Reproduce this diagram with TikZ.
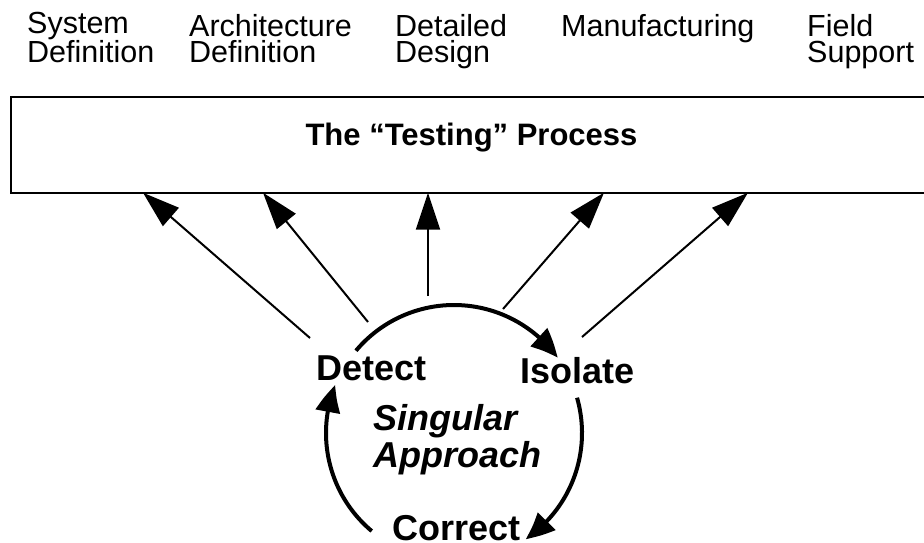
\documentclass[tikz,border=0pt]{standalone}
\usepackage{fontspec}
\setmainfont{Liberation Sans}
\usetikzlibrary{arrows.meta,bending}
\tikzset{phase/.style={anchor=base west, inner sep=0pt, align=left, font=\fontsize{30.5}{26.5}\selectfont},
  cyclabel/.style={anchor=base west, inner sep=0pt, font=\bfseries\fontsize{36}{37}\selectfont},
  procbox/.style={draw, line width=2pt, minimum width=921pt, minimum height=96pt, inner sep=0pt},
  feed/.style={line width=2pt, -{Triangle[length=37pt,width=24pt]}},
  cyc/.style={line width=4pt, -{Triangle[length=28pt,width=24pt,bend]}}}

\begin{document}
\begin{tikzpicture}[x=1pt, y=1pt]
    \useasboundingbox (0,0) rectangle (924,-542);
    % the base anchor of a two-line label sits on its last line
    \foreach \n/\x/\y/\t in {sysdef/27/62.5/{System\\Definition}, archdef/189/62.5/{Architecture\\Definition}, design/395/62.5/{Detailed\\Design}, manuf/561/36/{Manufacturing}, field/807/62.5/{Field\\Support}} {
      \node [phase] (\n) at (\x,-\y) {\t};
    }
    \node [procbox] (box) at (471.5,-144.7) {};
    \node [anchor=base, inner sep=0pt, font=\bfseries\fontsize{31}{31}\selectfont] (title) at (471.5,-145) {The “Testing” Process};
    \foreach \i/\tx/\ty/\hx in {1/310/338/143, 2/368/322/263, 3/428/296/428, 4/503/309/604, 5/582/337/748} {
      \coordinate (t\i) at (\tx,-\ty);
      \coordinate (h\i) at (\hx,-192.7);
      \draw [feed] (t\i) -- (h\i);
    }
    \coordinate (c) at (454,-433);
    \node [cyclabel] (detect) at (316,-380) {Detect};
    \node [cyclabel] (isolate) at (520,-383) {Isolate};
    \node [cyclabel, font=\bfseries\itshape\fontsize{36}{37}\selectfont, align=left] (singular) at (373,-467) {Singular\\Approach};
    \node [cyclabel] (correct) at (392,-540) {Correct};
    \draw [cyc] ([shift={(140:128pt)}]c) arc [start angle=140, end angle=36, radius=128pt];
    \draw [cyc] ([shift={(16:128pt)}]c) arc [start angle=16, end angle=-56, radius=128pt];
    \draw [cyc] ([shift={(230:128pt)}]c) arc [start angle=230, end angle=158, radius=128pt];
  \end{tikzpicture}
\end{document}
